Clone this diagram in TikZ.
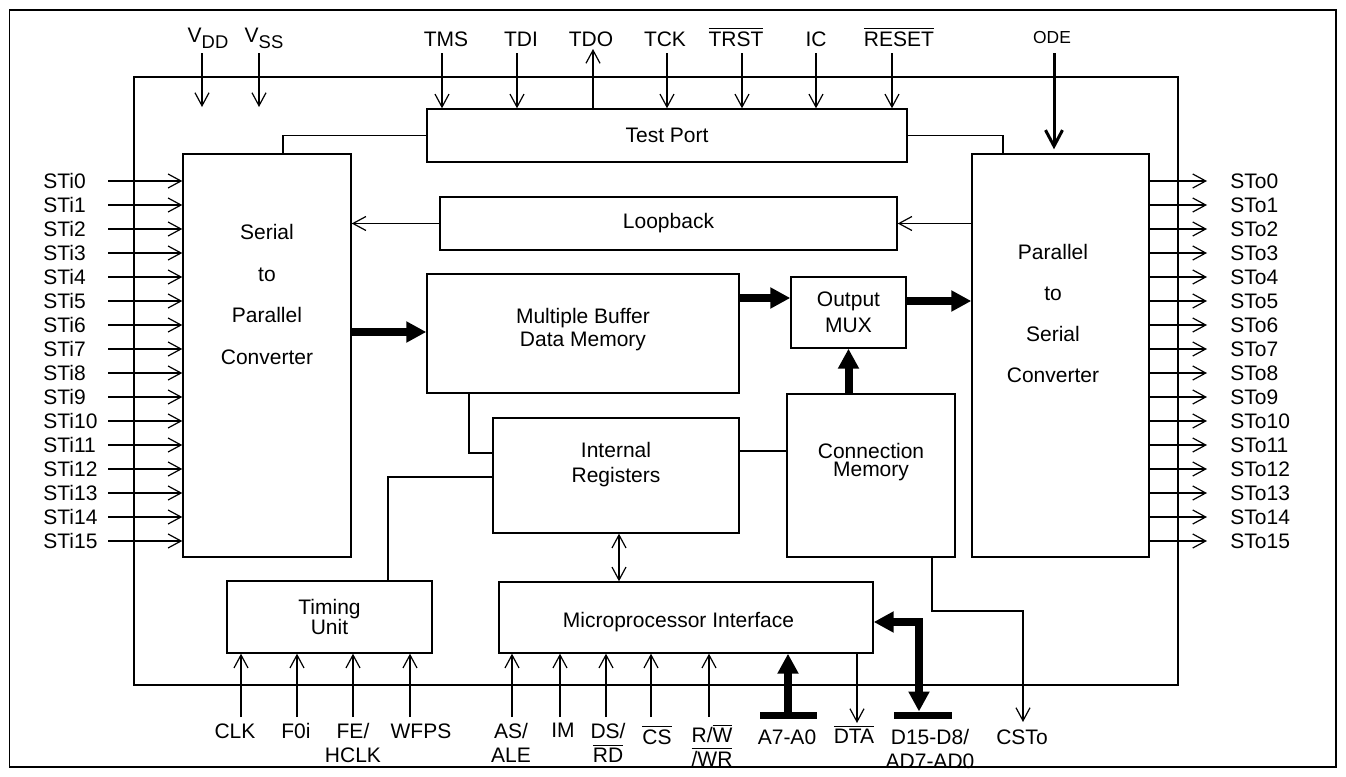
\documentclass[tikz,border=0pt]{standalone}
\usepackage{fontspec}
\setmainfont{Liberation Sans}
\usetikzlibrary{arrows.meta}
\tikzset{block/.style={draw, line width=0.7pt, inner sep=0pt, align=center}}
\tikzset{txt/.style={inner sep=0pt, align=center}}
\tikzset{pinlabel/.style={inner sep=0pt, align=center, anchor=north}}
\tikzset{toplabel/.style={inner sep=0pt, anchor=base}}
\tikzset{link/.style={line width=0.6pt}}
\tikzset{pin/.style={link, -{Straight Barb[length=6.5pt,width=7pt]}}}
\tikzset{both pin/.style={link, {Straight Barb[length=6.5pt,width=7pt]}-{Straight Barb[length=6.5pt,width=7pt]}}}
\tikzset{bus/.style={line width=4pt, -{Triangle[length=10pt,width=10pt]}}}
\tikzset{both bus/.style={line width=4pt, {Triangle[length=10pt,width=10pt]}-{Triangle[length=10pt,width=10pt]}}}
\tikzset{bar/.style={line width=3.5pt}}
\newcommand{\ovl}[1]{$\overline{\mbox{#1}}$}
\newcommand{\vsub}[1]{V\raisebox{-3pt}{\fontsize{9.2}{10}\selectfont #1}}
\newcommand{\tightlines}{\setlength{\lineskiplimit}{-20pt}}

\begin{document}
\begin{tikzpicture}[x=0.5pt, y=-0.5pt, font=\fontsize{10.5}{12}\selectfont]
  \useasboundingbox (0,0) rectangle (1346,777);
  \draw [line width=0.6pt] (9.5,10) rectangle (1336,767);
  \draw [line width=0.7pt] (134,77) rectangle (1178,685);

  % blocks
  \node [block, minimum width=240pt,   minimum height=26.5pt]  (tp)   at ( 667,   135.5) {Test Port};
  \node [block, minimum width=84pt,    minimum height=201.5pt] (sp)   at ( 267,   355.5) {};
  \node [block, minimum width=88.5pt,  minimum height=201.5pt] (ps)   at (1060.5, 355.5) {};
  \node [block, minimum width=228.5pt, minimum height=26.5pt]  (lb)   at ( 668.5, 223.5) {Loopback};
  \node [block, minimum width=156pt,   minimum height=59.5pt]  (mbdm) at ( 583,   333.5) {};
  \node [block, minimum width=57.5pt,  minimum height=35.5pt, font=\fontsize{10.5}{13}\selectfont] (mux) at ( 848.5, 312.5) {Output\\MUX};
  \node [block, minimum width=84pt,    minimum height=81.5pt]  (cm)   at ( 871,   475.5) {};
  \node [block, minimum width=123pt,   minimum height=57.5pt]  (ir)   at ( 616,   475.5) {};
  \node [block, minimum width=102.5pt, minimum height=36pt, font=\fontsize{10.5}{10}\selectfont] (tu) at ( 329.5, 617) {Timing\\Unit};
  \node [block, minimum width=187pt,   minimum height=35.5pt]  (mi)   at ( 686,   617.5) {};

  \node [txt, font=\fontsize{10.5}{20.8}\selectfont] (sp-t)   at ( 267,   294.5) {Serial\\to\\Parallel\\Converter};
  \node [txt, font=\fontsize{10.5}{20.5}\selectfont] (ps-t)   at (1053,   313.5) {Parallel\\to\\Serial\\Converter};
  \node [txt, font=\fontsize{10.5}{11.5}\selectfont] (mbdm-t) at ( 583,   329.5) {Multiple Buffer\\Data Memory};
  \node [txt, font=\fontsize{10.5}{12.5}\selectfont] (ir-t)   at ( 616,   464.5) {Internal\\Registers};
  \node [txt, font=\fontsize{10.5}{9}\selectfont\tightlines] (cm-t) at ( 871, 462) {Connection\\Memory};
  \node [txt]                                        (mi-t)   at ( 678.5, 622)   {Microprocessor Interface};

  % serial streams
  \foreach \i in {0,...,15} {
    \node [txt, anchor=west] (sti\i) at (43, 181+24*\i) {STi\i};
    \coordinate (sti\i-s) at (108, 181+24*\i);
    \draw [pin] (sti\i-s) -- (sti\i-s -| sp.west);
    \node [txt, anchor=west] (sto\i) at (1230, 181+24*\i) {STo\i};
    \coordinate (sto\i-e) at (1207, 181+24*\i);
    \draw [pin] (sto\i-e -| ps.east) -- (sto\i-e);
  }

  % top pins
  \node [toplabel] (vdd) at (208, 42) {\vsub{DD}};
  \node [toplabel] (vss) at (264, 42) {\vsub{SS}};
  \coordinate (vdd-s) at (202, 53);  \coordinate (vdd-e) at (202, 107);
  \coordinate (vss-s) at (259, 53);  \coordinate (vss-e) at (259, 107);
  \draw [pin] (vdd-s) -- (vdd-e);
  \draw [pin] (vss-s) -- (vss-e);

  \foreach \x/\lx/\name/\txt in {442/446/tms/TMS, 517/521/tdi/TDI, 667/665/tck/TCK,
      742/736/trst/{\ovl{TRST}}, 816/816/ic/IC, 892/899/reset/{\ovl{RESET}}} {
    \node [toplabel] (\name) at (\lx, 46) {\txt};
    \coordinate (\name-s) at (\x, 53);
    \draw [pin] (\name-s) -- (\name-s |- tp.north);
  }
  \node [toplabel] (tdo) at (591, 46) {TDO};
  \coordinate (tdo-e) at (593, 49);
  \draw [pin] (tdo-e |- tp.north) -- (tdo-e);

  \node [toplabel, font=\fontsize{8.7}{10}\selectfont] (ode) at (1052, 43) {ODE};
  \coordinate (ode-s) at (1054, 53);
  \draw [line width=1.5pt, -{Straight Barb[length=8pt,width=8.5pt]}, shorten >=2pt] (ode-s) -- (ode-s |- ps.north);

  % internal connections
  \draw [link] (tp.west) -| (sp.north -| 283,0);
  \draw [link] (tp.east) -| (ps.north -| 1003,0);
  \draw [pin] (ps.west |- lb.east) -- (lb.east);
  \draw [pin] (lb.west) -- (lb.west -| sp.east);
  \draw [bus] (sp.east |- 0,332) -- (mbdm.west |- 0,332);
  \draw [bus] (mbdm.east |- 0,298) -- (mux.west |- 0,298);
  \draw [bus] (mux.east |- 0,301) -- (ps.west |- 0,301);
  \draw [bus] (cm.north -| mux.south) -- (mux.south);
  \draw [link, line width=0.9pt] (mbdm.south -| 469,0) |- (ir.west |- 0,453);
  \draw [link] (tu.north -| 388,0) |- (ir.west |- 0,477);
  \draw [link] (ir.east |- 0,451) -- (cm.west |- 0,451);
  \draw [both pin] (ir.south -| 619,0) -- (mi.north -| 619,0);

  % bottom pins
  \node [pinlabel] (clk)   at (235, 723) {CLK};
  \node [pinlabel] (fzero) at (296, 723) {F0i};
  \node [pinlabel] (fe)    at (353, 723) {FE/\\HCLK};
  \node [pinlabel] (wfps)  at (421, 723) {WFPS};
  \node [pinlabel] (asale) at (511, 723) {AS/\\ALE};
  \node [pinlabel] (im)    at (563, 723) {IM};
  \node [pinlabel] (dsrd)  at (608, 723) {DS/\\\ovl{RD}};
  \node [pinlabel] (cs)    at (657, 725) {\ovl{CS}};
  \node [pinlabel] (rw)    at (712, 724) {R/\ovl{W}\\\ovl{/WR}};
  \node [pinlabel] (a7)    at (787, 729) {A7-A0};
  \node [pinlabel] (dta)   at (854, 725) {\ovl{DTA}};
  \node [pinlabel] (d15)   at (930, 729) {D15-D8/\\AD7-AD0};
  \node [pinlabel] (csto)  at (1022, 729) {CSTo};

  \foreach \x/\name in {241/clk, 297/fzero, 353/fe, 410/wfps} {
    \coordinate (\name-s) at (\x, 717);
    \draw [pin] (\name-s) -- (\name-s |- tu.south);
  }
  \foreach \x/\name in {512/asale, 560/im, 606/dsrd, 651/cs, 709/rw} {
    \coordinate (\name-s) at (\x, 717);
    \draw [pin] (\name-s) -- (\name-s |- mi.south);
  }
  \coordinate (dta-e) at (857, 723);
  \draw [pin] (dta-e |- mi.south) -- (dta-e);

  \coordinate (a7-bar) at (788, 715);
  \draw [bar] ([xshift=-14pt]a7-bar) -- ([xshift=14.5pt]a7-bar);
  \draw [bus] (a7-bar) -- (a7-bar |- mi.south);
  \coordinate (d15-bar) at (919, 715);
  \draw [bar] ([xshift=-12.5pt]d15-bar) -- ([xshift=16.5pt]d15-bar);
  \draw [both bus] (mi.east |- 0,622) -| ([yshift=1.75pt]d15-bar);

  \coordinate (csto-e) at (1023, 722);
  \draw [pin] (cm.south -| 932,0) |- (csto-e |- 0,611) -- (csto-e);
\end{tikzpicture}
\end{document}
